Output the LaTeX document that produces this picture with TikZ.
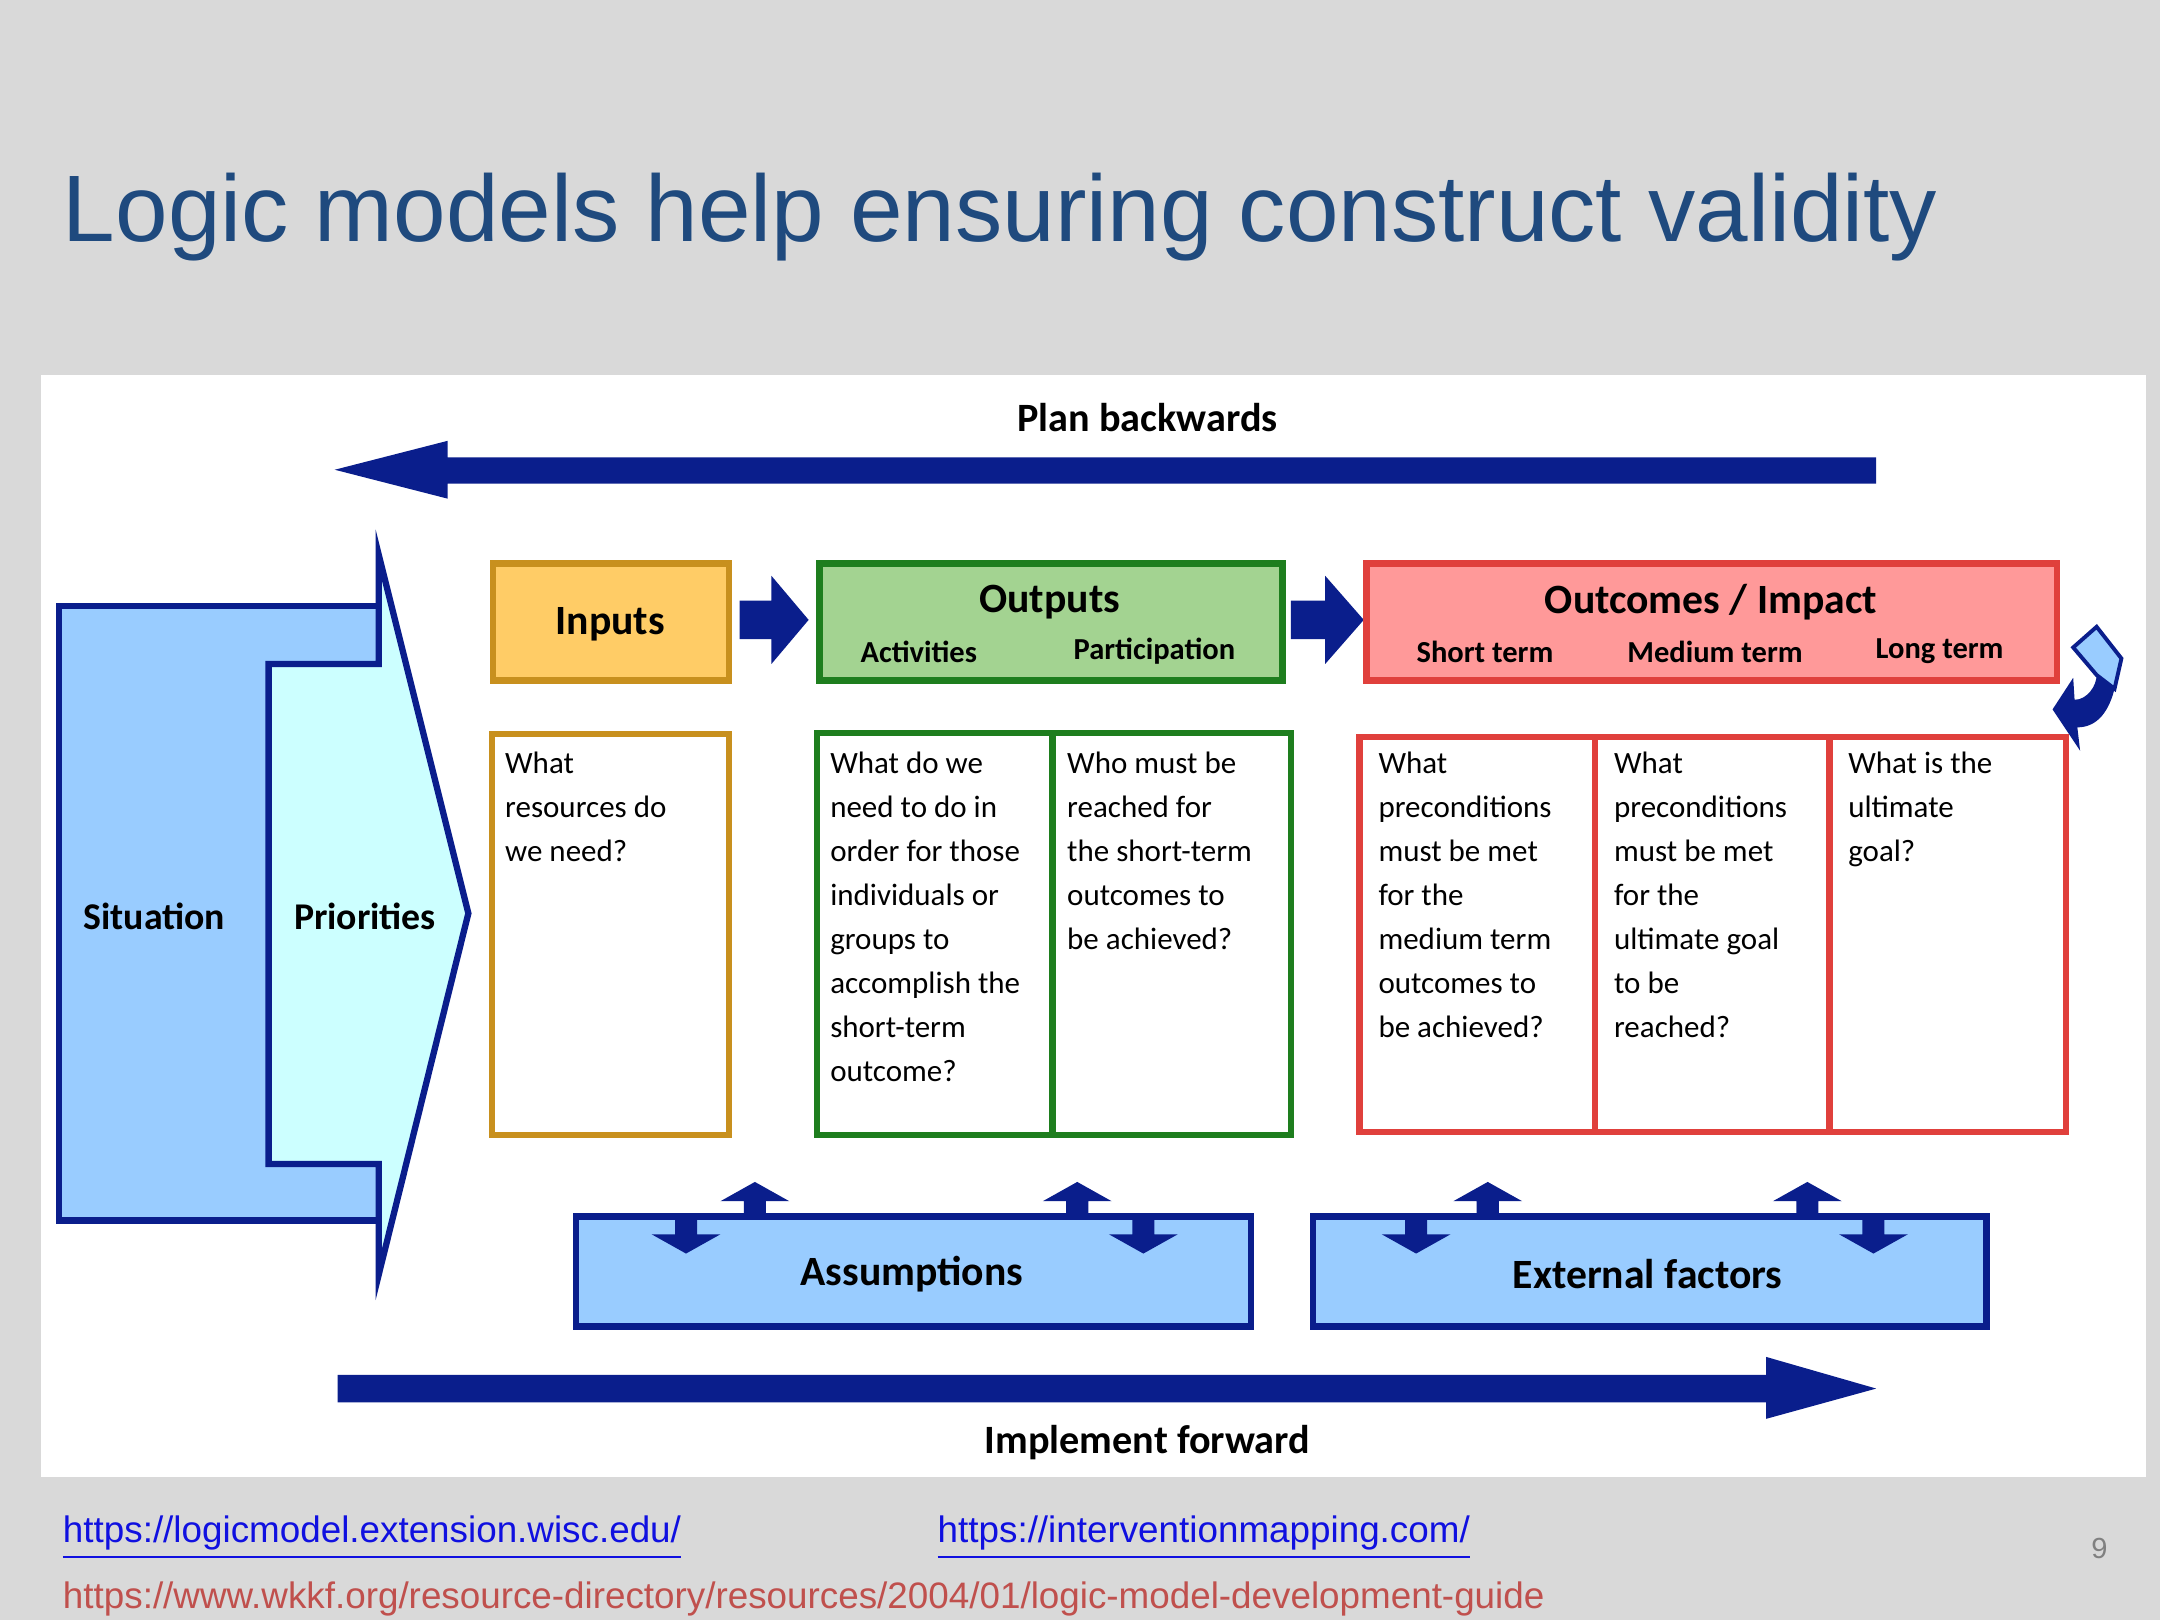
\documentclass[tikz,border=0pt]{standalone}
\usepackage{fontspec}
\setmainfont{Carlito}
\newfontfamily\arialf{Liberation Sans}
\usetikzlibrary{shapes.arrows}
\definecolor{bg}{HTML}{D9D9D9}
\definecolor{dblue}{HTML}{0A1E8C}
\definecolor{ttl}{HTML}{1F4A7E}
\definecolor{sitfill}{HTML}{99CCFF}
\definecolor{prifill}{HTML}{CCFFFF}
\definecolor{inpfill}{HTML}{FFCC66}
\definecolor{inpline}{HTML}{C8901E}
\definecolor{outfill}{HTML}{A3D391}
\definecolor{outline}{HTML}{1E7E1E}
\definecolor{ocfill}{HTML}{FF9999}
\definecolor{ocline}{HTML}{E0403C}
\definecolor{lnk}{HTML}{1010E0}
\definecolor{lnkr}{HTML}{C0504D}
\tikzset{
 lab/.style={font=\bfseries\fontsize{8.6}{10}\selectfont},
 sub/.style={font=\bfseries\fontsize{6.3}{8}\selectfont},
 body/.style={anchor=north west,align=left,inner sep=0pt,font=\fontsize{6.4}{9.1}\selectfont},
 hdr/.style={line width=1.3pt},
 bx/.style={line width=1.3pt},
 barr/.style={fill=dblue,draw=none},
 pics/uparr/.style={code={\fill[dblue] (-8,0)--(-8,-12)--(-25,-12)--(0,-26)--(25,-12)--(8,-12)--(8,0)--cycle;}},
 pics/dnarr/.style={code={\fill[dblue] (-8,0)--(-8,12)--(-25,12)--(0,26)--(25,12)--(8,12)--(8,0)--cycle;}},
 link/.style={anchor=base west,inner sep=0pt,font=\arialf\fontsize{7.6}{9}\selectfont},
}
\begin{document}
\begin{tikzpicture}[x=0.01cm,y=-0.01cm]
\useasboundingbox (0,0) rectangle (1568,1176);
\fill[bg] (0,0) rectangle (1568,1176);
\fill[white] (30,272) rectangle (1558,1072);
\node[anchor=base west,inner sep=0pt,text=ttl,font=\arialf\fontsize{19.5}{22}\selectfont] (title) at (45,175) {Logic models help ensuring construct validity};
% plan backwards
\node[lab,font=\bfseries\fontsize{8.3}{10}\selectfont] (pb) at (833,303) {Plan backwards};
\fill[barr] (1362,332)--(325,332)--(325,320)--(243,341)--(325,362)--(325,351)--(1362,351)--cycle;
% implement forward
\fill[barr] (245,998)--(1282,998)--(1282,985)--(1362,1008)--(1282,1030)--(1282,1018)--(245,1018)--cycle;
\node[lab,font=\bfseries\fontsize{8.3}{10}\selectfont] (if) at (833,1047) {Implement forward};
% situation / priorities
\draw[fill=sitfill,draw=dblue,line width=1.3pt] (43,440) rectangle (275,886);
\draw[fill=prifill,draw=dblue,line width=1.3pt] (195,482)--(275,482)--(275,403)--(340,663)--(275,925)--(275,845)--(195,845)--cycle;
\node[lab,font=\bfseries\fontsize{7.8}{10}\selectfont] (sit) at (112,665) {Situation};
\node[lab,font=\bfseries\fontsize{7.8}{10}\selectfont] (pri) at (265,665) {Priorities};
% headers
\draw[hdr,fill=inpfill,draw=inpline] (358,409) rectangle (529,494);
\node[lab] (inp) at (443,453) {Inputs};
\fill[barr] (537,436)--(560,436)--(560,418)--(587,450)--(560,482)--(560,464)--(537,464)--cycle;
\draw[hdr,fill=outfill,draw=outline] (595,409) rectangle (931,494);
\node[lab] (outp) at (762,437) {Outputs};
\node[sub] (act) at (667,473) {Activities};
\node[sub] (par) at (838,473) {Participation};
\fill[barr] (937,436)--(962,436)--(962,418)--(990,450)--(962,482)--(962,464)--(937,464)--cycle;
\draw[hdr,fill=ocfill,draw=ocline] (992,409) rectangle (1493,494);
\node[lab] (oc) at (1242,437) {Outcomes / Impact};
\node[sub] (st) at (1078,473) {Short term};
\node[sub] (mt) at (1245,473) {Medium term};
\node[sub] (lt) at (1408,473) {Long term};
% curved return arrow
\draw[fill=sitfill,draw=dblue,line width=0.8pt] (1505,470)--(1522,455)--(1540,478)--(1535,500)--(1522,490)--cycle;
\fill[dblue] (1535,500)..controls (1530,520) and (1520,528)..(1508,528)--(1510,545)--(1490,515)--(1505,492)--(1506,508)..controls (1515,508) and (1522,498)..(1522,490)--cycle;
% body boxes
\draw[bx,draw=inpline] (357,533) rectangle (529,824);
\node[body] (t1) at (366,545) {What\\resources do\\we need?};
\draw[bx,draw=outline] (593,532) rectangle (764,824);
\draw[bx,draw=outline] (764,532) rectangle (937,824);
\node[body] (t2) at (602,545) {What do we\\need to do in\\order for those\\individuals or\\groups to\\accomplish the\\short-term\\outcome?};
\node[body] (t3) at (774,545) {Who must be\\reached for\\the short-term\\outcomes to\\be achieved?};
\draw[bx,draw=ocline] (987,535) rectangle (1158,822);
\draw[bx,draw=ocline] (1158,535) rectangle (1328,822);
\draw[bx,draw=ocline] (1328,535) rectangle (1500,822);
\node[body] (t4) at (1000,545) {What\\preconditions\\must be met\\for the\\medium term\\outcomes to\\be achieved?};
\node[body] (t5) at (1171,545) {What\\preconditions\\must be met\\for the\\ultimate goal\\to be\\reached?};
\node[body] (t6) at (1341,545) {What is the\\ultimate\\goal?};
% assumptions / external
\draw[fill=sitfill,draw=dblue,line width=1.3pt] (418,883) rectangle (908,963);
\node[lab] (as) at (662,925) {Assumptions};
\draw[fill=sitfill,draw=dblue,line width=1.3pt] (953,883) rectangle (1442,963);
\node[lab] (ef) at (1196,925) {External factors};
\pic at (548,884) {uparr};
\pic at (782,884) {uparr};
\pic at (1080,884) {uparr};
\pic at (1312,884) {uparr};
\pic at (498,884) {dnarr};
\pic at (830,884) {dnarr};
\pic at (1028,884) {dnarr};
\pic at (1360,884) {dnarr};
% links
\node[link,text=lnk] (l1) at (45,1120) {\underline{https://logicmodel.extension.wisc.edu/}};
\node[link,text=lnk] (l2) at (680,1120) {\underline{https://interventionmapping.com/}};
\node[link,text=lnkr] (l3) at (45,1168) {\underline{https://www.wkkf.org/resource-directory/resources/2004/01/logic-model-development-guide}};
\node[anchor=base,inner sep=0pt,text=gray,font=\arialf\fontsize{6}{7}\selectfont] (pg) at (1524,1131) {9};
\end{tikzpicture}
\end{document}
